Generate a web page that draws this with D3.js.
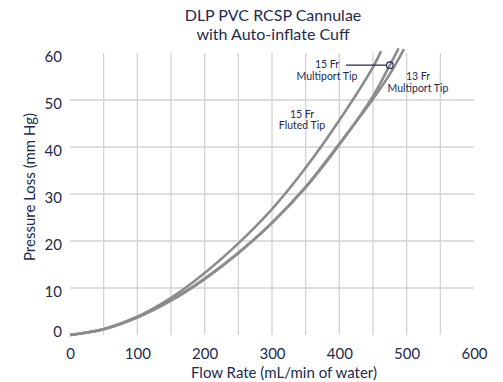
<!DOCTYPE html>
<html><head><meta charset="utf-8">
<script src="https://cdn.jsdelivr.net/npm/d3@7"></script>
<style>
html,body{margin:0;padding:0;background:#fff;}
svg{display:block;font-family:Lato,"Open Sans",sans-serif;}
</style></head>
<body>
<svg id="chart" width="503" height="382"></svg>
<script>
// ---- data ----
const titleLines = ["DLP PVC RCSP Cannulae", "with Auto-inflate Cuff"];
const xTicks = [0, 100, 200, 300, 400, 500, 600];
const yTicks = [0, 10, 20, 30, 40, 50, 60];
const xGrid = [50, 100, 150, 200, 250, 300, 350, 400, 450, 500, 550];
const yGrid = [10, 20, 30, 40, 50];

const fr15FlutedFlow = [0, 50, 100, 150, 200, 250, 300, 350, 400, 450, 462];
const fr15FlutedLoss = [0, 1.3, 3.9, 7.9, 13.2, 19.5, 26.8, 35.6, 45.7, 57.0, 60.4];

const fr15MultiFlow = [0, 50, 100, 150, 200, 250, 300, 350, 400, 450, 475, 488];
const fr15MultiLoss = [0, 1.2, 3.7, 7.3, 11.9, 17.4, 23.8, 31.4, 40.5, 50.8, 57.4, 61.0];

const fr13MultiFlow = [0, 50, 100, 150, 200, 250, 300, 350, 400, 450, 475, 496];
const fr13MultiLoss = [0, 1.2, 3.8, 7.4, 12.0, 17.5, 23.9, 31.5, 40.7, 50.2, 55.5, 60.8];

const markerPoint = [475, 57.4];

// ---- layout ----
const svg = d3.select("#chart");
const navy = "#232b4d";
const x = d3.scaleLinear().domain([0, 600]).range([70, 474]);
const y = d3.scaleLinear().domain([0, 60]).range([335, 53]);

// grid
svg.append("g").selectAll("line").data(xGrid).join("line")
  .attr("x1", d => x(d)).attr("x2", d => x(d))
  .attr("y1", y(60)).attr("y2", y(0))
  .attr("stroke", "#d3d3d3").attr("stroke-width", 1.3);
svg.append("g").selectAll("line").data(yGrid).join("line")
  .attr("x1", x(0)).attr("x2", x(600))
  .attr("y1", d => y(d)).attr("y2", d => y(d))
  .attr("stroke", "#d3d3d3").attr("stroke-width", 1.3);

// axes (labels only)
const xAxis = svg.append("g").attr("transform", `translate(0,${y(0)})`)
  .call(d3.axisBottom(x).tickValues(xTicks).tickSize(0).tickPadding(13));
const yAxis = svg.append("g").attr("transform", `translate(${x(0)},0)`)
  .call(d3.axisLeft(y).tickValues(yTicks).tickSize(0).tickPadding(8));
[xAxis, yAxis].forEach(a => {
  a.select(".domain").remove();
  a.selectAll("text").attr("fill", navy).style("font-size", "15px")
    .style("font-family", "Lato, sans-serif");
});
yAxis.selectAll("text").attr("dy", d => d === 0 ? "0.1em" : "0.55em");

// curves
const line = d3.line().x(d => x(d[0])).y(d => y(d[1])).curve(d3.curveCatmullRom.alpha(0.5));
const series = [
  [fr15FlutedFlow, fr15FlutedLoss],
  [fr15MultiFlow, fr15MultiLoss],
  [fr13MultiFlow, fr13MultiLoss]
];
svg.append("g").selectAll("path").data(series).join("path")
  .attr("d", s => line(s[0].map((f, i) => [f, s[1][i]])))
  .attr("fill", "none").attr("stroke", "#8c8c8c").attr("stroke-width", 2.6);

// titles
svg.append("text").attr("x", 273).attr("text-anchor", "middle")
  .attr("fill", navy).style("font-size", "16px")
  .selectAll("tspan").data(titleLines).join("tspan")
  .attr("x", 273).attr("y", (d, i) => 20.5 + i * 19).text(d => d);

svg.append("text").attr("x", 284).attr("y", 378).attr("text-anchor", "middle")
  .attr("fill", navy).style("font-size", "15px").text("Flow Rate (mL/min of water)");

svg.append("text").attr("transform", "translate(35,187) rotate(-90)")
  .attr("text-anchor", "middle").attr("fill", navy).style("font-size", "15px")
  .text("Pressure Loss (mm Hg)");

// annotations
function note(cx, cy, lines) {
  svg.append("text").attr("text-anchor", "middle").attr("fill", navy)
    .style("font-size", "10.5px")
    .selectAll("tspan").data(lines).join("tspan")
    .attr("x", cx).attr("y", (d, i) => cy + i * 11.5).text(d => d);
}
note(327, 68, ["15 Fr", "Multiport Tip"]);
note(418, 80, ["13 Fr", "Multiport Tip"]);
note(302, 117.5, ["15 Fr", "Fluted Tip"]);

svg.append("line").attr("x1", 346).attr("x2", x(markerPoint[0]) - 3.3)
  .attr("y1", y(markerPoint[1])).attr("y2", y(markerPoint[1]))
  .attr("stroke", navy).attr("stroke-width", 1.2);
svg.append("circle").attr("cx", x(markerPoint[0])).attr("cy", y(markerPoint[1]))
  .attr("r", 3.3).attr("fill", "none").attr("stroke", navy).attr("stroke-width", 1.2);
</script>
</body></html>
